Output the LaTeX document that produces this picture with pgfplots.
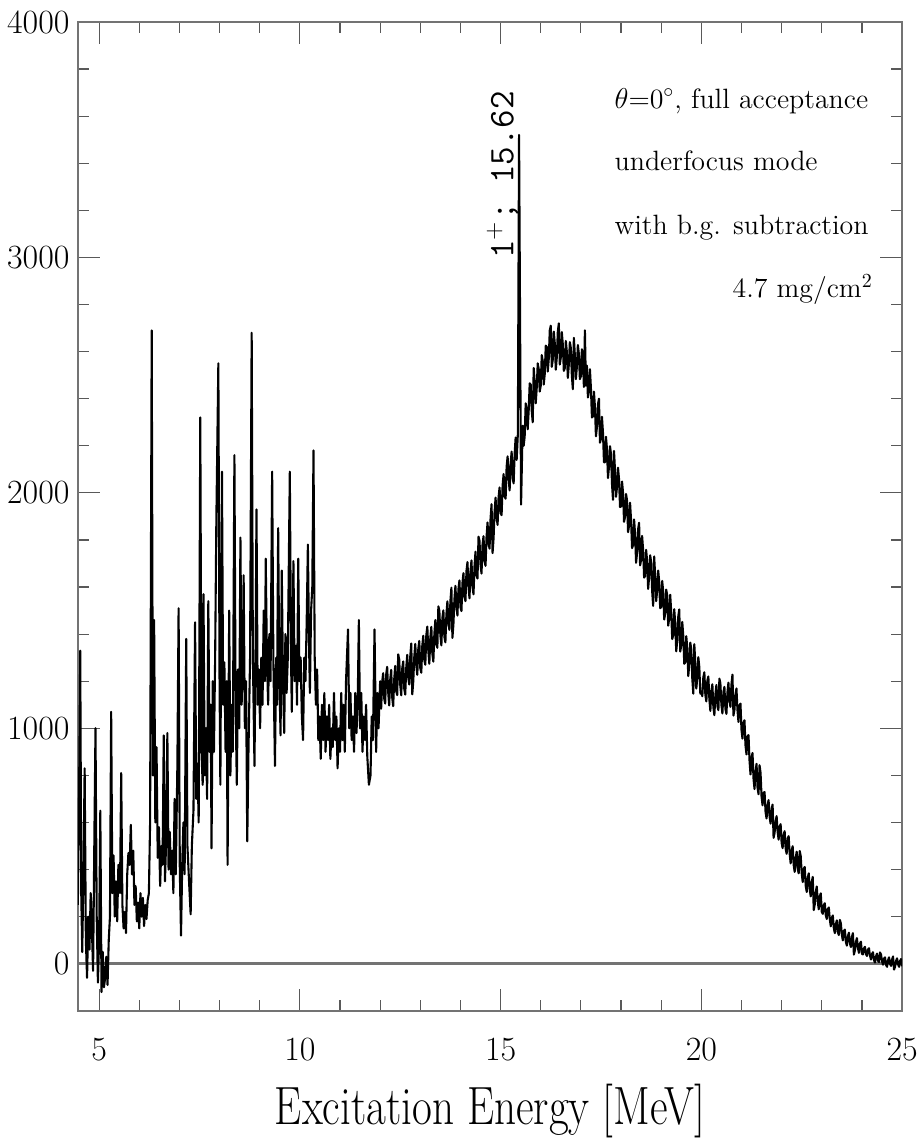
\documentclass[border=0pt]{standalone}
\usepackage{pgfplots}
\usepackage{graphicx}
\pgfplotsset{compat=1.18}
\begin{document}
\begin{tikzpicture}
\begin{axis}[
  scale only axis,
  width=413pt, height=495.5pt,
  xmin=4.47, xmax=25, ymin=-200, ymax=4000,
  xtick={5,10,15,20,25},
  xticklabels={5,10,15,20,25},
  ytick={0,1000,2000,3000,4000},
  yticklabels={0,1000,2000,3000,4000},
  scaled y ticks=false,
  minor x tick num=4, minor y tick num=4,
  major tick length=11pt, minor tick length=5.5pt,
  tick align=inside,
  xtick pos=both, ytick pos=both,
  axis line style={draw=black!55, line width=1.3pt},
  tick style={draw=black!65, line width=0.6pt},
  tick label style={font=\fontsize{17}{20}\selectfont},
  yticklabel style={inner sep=0pt, xshift=-4pt},
  xticklabel style={inner sep=0pt, yshift=-13.5pt},
  xlabel={\scalebox{0.8}[1]{\fontsize{27}{30}\selectfont Excitation Energy [MeV]}},
  xlabel style={at={(axis description cs:0.5,0)}, anchor=base, yshift=-57pt, inner sep=0pt},
]
\addplot[black!55, line width=1.4pt] coordinates {(4.47,0)(25,0)};
\addplot[black, line width=1.05pt, line join=round] coordinates {
(4.47,250)(4.50,700)(4.53,1330)(4.555,300)(4.58,50)(4.61,400)(4.64,830)(4.67,100)(4.70,-60)(4.73,200)(4.76,60)(4.79,300)(4.82,150)(4.85,-30)(4.88,500)(4.91,1000)(4.94,200)(4.97,-80)(5.00,100)(5.03,650)(5.06,-120)(5.09,50)(5.12,-100)(5.15,-60)(5.18,30)(5.21,-90)(5.24,100)(5.27,200)(5.30,1070)(5.33,300)(5.36,460)(5.39,200)(5.42,350)(5.45,180)(5.48,420)(5.52,300)(5.55,810)(5.58,250)(5.61,150)(5.64,220)(5.67,130)(5.70,380)(5.73,470)(5.76,420)(5.79,590)(5.82,380)(5.85,480)(5.88,250)(5.91,330)(5.94,180)(5.97,260)(6.00,150)(6.03,300)(6.06,200)(6.09,280)(6.12,160)(6.15,250)(6.18,190)(6.21,270)(6.24,300)(6.27,600)(6.31,2690)(6.34,800)(6.37,1460)(6.40,600)(6.43,920)(6.46,450)(6.49,580)(6.52,330)(6.55,500)(6.58,420)(6.61,970)(6.64,350)(6.67,520)(6.70,980)(6.73,400)(6.76,560)(6.79,380)(6.82,480)(6.85,300)(6.88,700)(6.91,380)(6.95,850)(6.98,1510)(7.01,400)(7.04,120)(7.07,420)(7.10,600)(7.13,380)(7.17,1380)(7.20,500)(7.24,350)(7.28,210)(7.31,500)(7.35,650)(7.39,1450)(7.42,700)(7.45,850)(7.48,600)(7.52,2320)(7.55,900)(7.58,760)(7.60,1570)(7.63,800)(7.66,1000)(7.69,700)(7.72,1540)(7.75,900)(7.78,1100)(7.80,490)(7.83,1200)(7.86,900)(7.89,1300)(7.92,1880)(7.97,2550)(8.00,1200)(8.02,760)(8.06,2090)(8.09,1100)(8.12,1280)(8.15,900)(8.18,1200)(8.20,420)(8.24,1500)(8.27,800)(8.30,1100)(8.33,900)(8.37,2160)(8.40,1100)(8.43,760)(8.46,1250)(8.49,1000)(8.52,1810)(8.55,1100)(8.58,1300)(8.60,1650)(8.63,1000)(8.66,1200)(8.69,520)(8.72,900)(8.76,1300)(8.80,2680)(8.83,1300)(8.87,840)(8.90,1400)(8.92,1930)(8.95,1100)(8.98,1250)(9.01,1000)(9.04,1300)(9.07,1100)(9.10,1500)(9.13,1200)(9.15,1720)(9.18,1300)(9.21,1100)(9.24,1400)(9.27,1200)(9.31,2090)(9.34,1300)(9.38,840)(9.41,1300)(9.43,1100)(9.46,1850)(9.49,1200)(9.52,970)(9.55,1670)(9.58,1200)(9.61,980)(9.64,1400)(9.67,1150)(9.70,1300)(9.75,2090)(9.78,1300)(9.80,1070)(9.84,1710)(9.87,1200)(9.90,1350)(9.93,1100)(9.96,1720)(9.99,1200)(10.02,1300)(10.05,1050)(10.08,950)(10.11,1300)(10.14,1200)(10.17,1450)(10.20,1780)(10.23,1350)(10.25,1150)(10.28,1500)(10.31,1600)(10.34,2180)(10.37,1300)(10.40,1100)(10.43,1250)(10.46,950)(10.49,1050)(10.52,870)(10.55,1100)(10.58,950)(10.61,1150)(10.64,900)(10.67,1050)(10.70,950)(10.73,1100)(10.76,870)(10.79,1000)(10.82,920)(10.85,1150)(10.88,950)(10.91,1050)(10.94,830)(10.97,1000)(11.00,900)(11.03,1150)(11.06,950)(11.09,1100)(11.12,900)(11.15,1200)(11.20,1420)(11.23,1000)(11.26,1150)(11.29,950)(11.32,1050)(11.35,900)(11.38,1150)(11.41,980)(11.44,1100)(11.47,1460)(11.50,1000)(11.53,1150)(11.56,900)(11.59,1050)(11.62,950)(11.65,1100)(11.68,880)(11.72,760)(11.76,800)(11.79,1050)(11.82,950)(11.86,1420)(11.90,900)(11.93,1150)(11.96,1000)(12.00,1200)
(12.025,1083)(12.05,1196)(12.075,1234)(12.10,1127)(12.125,1105)(12.15,1228)(12.175,1261)(12.20,1154)(12.225,1097)(12.25,1205)(12.275,1248)(12.30,1131)(12.325,1094)(12.35,1207)(12.375,1265)(12.40,1158)(12.425,1141)(12.45,1314)(12.475,1292)(12.50,1185)
(12.525,1140)(12.55,1254)(12.575,1284)(12.60,1168)(12.625,1143)(12.65,1257)(12.675,1312)(12.70,1216)(12.725,1186)(12.75,1305)(12.775,1360)(12.80,1144)(12.825,1199)(12.85,1303)(12.875,1358)(12.90,1267)(12.925,1227)(12.95,1336)(12.975,1371)(13.00,1255)
(13.025,1236)(13.05,1352)(13.075,1393)(13.10,1289)(13.125,1270)(13.15,1396)(13.175,1432)(13.20,1328)(13.225,1274)(13.25,1385)(13.275,1431)(13.30,1317)(13.325,1283)(13.35,1399)(13.375,1460)(13.40,1356)(13.425,1342)(13.45,1518)(13.475,1499)(13.50,1395)
(13.525,1352)(13.55,1469)(13.575,1501)(13.60,1388)(13.625,1365)(13.65,1482)(13.675,1539)(13.70,1446)(13.725,1418)(13.75,1540)(13.775,1597)(13.80,1384)(13.825,1441)(13.85,1548)(13.875,1605)(13.90,1517)(13.925,1479)(13.95,1591)(13.975,1628)(14.00,1515)
(14.025,1498)(14.05,1616)(14.075,1659)(14.10,1557)(14.125,1540)(14.15,1668)(14.175,1706)(14.20,1604)(14.225,1552)(14.25,1665)(14.275,1713)(14.30,1601)(14.325,1569)(14.35,1687)(14.375,1750)(14.40,1648)(14.425,1636)(14.45,1814)(14.475,1797)(14.50,1695)
(14.525,1657)(14.55,1779)(14.575,1816)(14.60,1708)(14.625,1690)(14.65,1812)(14.675,1874)(14.70,1786)(14.725,1763)(14.75,1890)(14.775,1952)(14.80,1744)(14.825,1806)(14.85,1918)(14.875,1980)(14.90,1897)(14.925,1864)(14.95,1981)(14.975,2023)(15.00,1915)
(15.025,1905)(15.05,2030)(15.075,2080)(15.10,1985)(15.125,1975)(15.15,2110)(15.175,2155)(15.20,2060)(15.225,2010)(15.25,2125)(15.275,2175)(15.30,2065)(15.325,2040)(15.35,2165)(15.375,2235)(15.40,2140)(15.43,2250)(15.46,3520)(15.48,2900)(15.51,1950)(15.55,2285)
(15.575,2200)(15.60,2240)(15.625,2380)(15.65,2360)(15.675,2270)(15.70,2350)(15.725,2465)(15.75,2460)(15.775,2350)(15.80,2300)(15.825,2530)(15.85,2470)(15.875,2380)(15.90,2445)(15.925,2550)(15.95,2525)(15.975,2430)(16.00,2455)
(16.025,2585)(16.05,2560)(16.075,2460)(16.10,2505)(16.125,2625)(16.15,2620)(16.175,2515)(16.20,2570)(16.225,2690)(16.25,2710)(16.275,2535)(16.30,2565)(16.325,2685)(16.35,2635)(16.375,2523)(16.40,2575)(16.425,2683)(16.45,2720)(16.475,2545)(16.50,2575)
(16.525,2683)(16.55,2630)(16.575,2518)(16.60,2530)(16.625,2645)(16.65,2600)(16.675,2488)(16.70,2545)(16.725,2640)(16.75,2615)(16.775,2498)(16.80,2440)(16.825,2658)(16.85,2585)(16.875,2483)(16.90,2535)(16.925,2628)(16.95,2590)(16.975,2483)(17.00,2495)
(17.025,2610)(17.05,2570)(17.075,2450)(17.10,2690)(17.125,2455)(17.15,2540)(17.175,2405)(17.20,2430)(17.225,2525)(17.25,2445)(17.275,2320)(17.30,2325)(17.325,2430)(17.35,2365)(17.375,2240)(17.40,2280)(17.425,2375)(17.45,2400)(17.475,2213)(17.50,2230)
(17.525,2323)(17.55,2255)(17.575,2130)(17.60,2130)(17.625,2238)(17.65,2185)(17.675,2063)(17.70,2110)(17.725,2198)(17.75,2165)(17.775,2038)(17.80,1970)(17.825,2178)(17.85,2095)(17.875,1983)(17.90,2025)(17.925,2107)(17.95,2058)(17.975,1940)(18.00,1942)
(18.025,2048)(18.05,2000)(18.075,1877)(18.10,1898)(18.125,1995)(18.15,1967)(18.175,1833)(18.20,1860)(18.225,1958)(18.25,1882)(18.275,1765)(18.30,1778)(18.325,1887)(18.35,1825)(18.375,1703)(18.40,1747)(18.425,1845)(18.45,1873)(18.475,1692)(18.50,1715)
(18.525,1817)(18.55,1758)(18.575,1640)(18.60,1647)(18.625,1758)(18.65,1710)(18.675,1592)(18.70,1643)(18.725,1735)(18.75,1707)(18.775,1583)(18.80,1520)(18.825,1730)(18.85,1650)(18.875,1540)(18.90,1585)(18.925,1670)(18.95,1625)(18.975,1510)(19.00,1515)
(19.025,1626)(19.05,1582)(19.075,1462)(19.10,1488)(19.125,1589)(19.15,1565)(19.175,1436)(19.20,1467)(19.225,1567)(19.25,1493)(19.275,1379)(19.30,1395)(19.325,1506)(19.35,1447)(19.375,1327)(19.40,1373)(19.425,1474)(19.45,1505)(19.475,1326)(19.50,1352)
(19.525,1452)(19.55,1393)(19.575,1274)(19.60,1280)(19.625,1391)(19.65,1342)(19.675,1222)(19.70,1273)(19.725,1364)(19.75,1335)(19.775,1211)(19.80,1147)(19.825,1357)(19.85,1278)(19.875,1169)(19.90,1215)(19.925,1302)(19.95,1260)(19.975,1147)(20.00,1155)
(20.025,1136)(20.05,1217)(20.075,1238)(20.10,1142)(20.125,1114)(20.15,1203)(20.175,1220)(20.20,1124)(20.225,1074)(20.25,1157)(20.275,1187)(20.30,1089)(20.325,1056)(20.35,1142)(20.375,1184)(20.40,1095)(20.425,1077)(20.45,1211)(20.475,1190)(20.50,1100)
(20.525,1063)(20.55,1153)(20.575,1176)(20.60,1082)(20.625,1061)(20.65,1151)(20.675,1194)(20.70,1116)(20.725,1091)(20.75,1185)(20.775,1228)(20.80,1054)(20.825,1079)(20.85,1144)(20.875,1169)(20.90,1078)(20.925,1027)(20.95,1096)(20.975,1105)(21.00,994)
(21.025,956)(21.05,1025)(21.075,1034)(21.10,927)(21.125,889)(21.15,966)(21.175,971)(21.20,864)(21.225,804)(21.25,875)(21.275,895)(21.30,786)(21.325,742)(21.35,817)(21.375,849)(21.40,748)(21.425,720)(21.45,843)(21.475,811)(21.50,710)
(21.525,673)(21.55,726)(21.575,729)(21.60,644)(21.625,617)(21.65,674)(21.675,695)(21.70,625)(21.725,595)(21.75,655)(21.775,676)(21.80,535)(21.825,556)(21.85,606)(21.875,627)(21.90,561)(21.925,527)(21.95,582)(21.975,593)(22.00,513)
(22.025,491)(22.05,549)(22.075,563)(22.10,489)(22.125,467)(22.15,531)(22.175,542)(22.20,468)(22.225,426)(22.25,482)(22.275,499)(22.30,420)(22.325,390)(22.35,449)(22.375,476)(22.40,403)(22.425,384)(22.45,479)(22.475,458)(22.50,385)
(22.525,347)(22.55,404)(22.575,411)(22.60,331)(22.625,305)(22.65,362)(22.675,384)(22.70,315)(22.725,286)(22.75,347)(22.775,369)(22.80,228)(22.825,252)(22.85,305)(22.875,328)(22.90,264)(22.925,231)(22.95,287)(22.975,299)(23.00,220)
(23.025,212)(23.05,249)(23.075,257)(23.10,206)(23.125,190)(23.15,232)(23.175,239)(23.20,189)(23.225,159)(23.25,195)(23.275,205)(23.30,151)(23.325,130)(23.35,168)(23.375,184)(23.40,134)(23.425,122)(23.45,186)(23.475,172)(23.50,123)
(23.525,99)(23.55,139)(23.575,145)(23.60,93)(23.625,77)(23.65,116)(23.675,132)(23.70,88)(23.725,71)(23.75,113)(23.775,130)(23.80,39)(23.825,56)(23.85,92)(23.875,109)(23.90,67)(23.925,46)(23.95,85)(23.975,94)(24.00,42)
(24.025,40)(24.05,65)(24.075,72)(24.10,41)(24.125,33)(24.15,60)(24.175,66)(24.20,35)(24.225,18)(24.25,41)(24.275,49)(24.30,16)(24.325,5)(24.35,31)(24.375,43)(24.40,13)(24.425,7)(24.45,48)(24.475,40)(24.50,11)
(24.525,-4)(24.55,22)(24.575,27)(24.60,-5)(24.625,-13)(24.65,14)(24.675,27)(24.70,0)(24.725,-9)(24.75,18)(24.775,31)(24.80,-25)(24.825,-13)(24.85,12)(24.875,23)(24.90,-2)(24.925,-13)(24.95,12)(24.975,20)(25.00,-11)
};
\node[rotate=90, font=\ttfamily\fontsize{18}{20}\selectfont] at (axis cs:15.05,3350) {1$^+$; 15.62};
\node[anchor=base west, inner sep=0pt, font=\fontsize{14}{16}\selectfont] at (axis cs:17.83,3634) {$\theta$=0$^\circ$, full acceptance};
\node[anchor=base west, inner sep=0pt, font=\fontsize{14}{16}\selectfont] at (axis cs:17.83,3371) {underfocus mode};
\node[anchor=base west, inner sep=0pt, font=\fontsize{14}{16}\selectfont] at (axis cs:17.83,3096) {with b.g. subtraction};
\node[anchor=base east, inner sep=0pt, font=\fontsize{14}{16}\selectfont] at (axis cs:24.28,2828) {4.7 mg/cm$^2$};
\end{axis}
\path (current axis.south west) ++(-39pt,-62.5pt) coordinate (bbA);
\path (current axis.north east) ++(9pt,11pt) coordinate (bbB);
\path (bbA) rectangle (bbB);
\end{tikzpicture}
\end{document}
